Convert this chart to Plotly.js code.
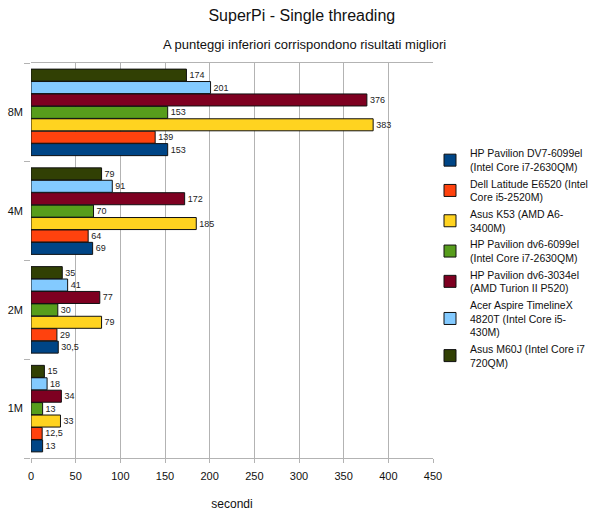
<!DOCTYPE html>
<html>
<head>
<meta charset="utf-8">
<script src="https://cdn.plot.ly/plotly-3.0.1.min.js"></script>
<style>html,body{margin:0;padding:0;background:#fff;}#chart{width:600px;height:514px;}</style>
</head>
<body>
<div id="chart"></div>
<script>
const categories = ['1M', '2M', '4M', '8M'];
const seriesNames = [
  'HP Pavilion DV7-6099el<br>(Intel Core i7-2630QM)',
  'Dell Latitude E6520 (Intel<br>Core i5-2520M)',
  'Asus K53 (AMD A6-<br>3400M)',
  'HP Pavilion dv6-6099el<br>(Intel Core i7-2630QM)',
  'HP Pavilion dv6-3034el<br>(AMD Turion II P520)',
  'Acer Aspire TimelineX<br>4820T (Intel Core i5-<br>430M)',
  'Asus M60J (Intel Core i7<br>720QM)'
];
const hpDv7 = [13, 30.5, 69, 153];
const dellE6520 = [12.5, 29, 64, 139];
const asusK53 = [33, 79, 185, 383];
const hpDv6_6099 = [13, 30, 70, 153];
const hpDv6_3034 = [34, 77, 172, 376];
const acerTimeline = [18, 41, 91, 201];
const asusM60J = [15, 35, 79, 174];
const seriesValues = [hpDv7, dellE6520, asusK53, hpDv6_6099, hpDv6_3034, acerTimeline, asusM60J];
const colors = ['#004586', '#ff420e', '#ffd320', '#579d1c', '#7e0021', '#83caff', '#314004'];
const xTicks = [0, 50, 100, 150, 200, 250, 300, 350, 400, 450];

const traces = seriesValues.map((vals, i) => ({
  type: 'bar',
  orientation: 'h',
  name: seriesNames[i],
  y: categories,
  x: vals,
  text: vals.map(v => String(v).replace('.', ',')),
  textposition: 'outside',
  constraintext: 'none',
  cliponaxis: false,
  textfont: {family: 'Liberation Sans, Arial, sans-serif', size: 9, color: '#222'},
  marker: {color: colors[i], line: {color: '#111', width: 1}},
  hoverinfo: 'x+name'
}));

const layout = {
  width: 600, height: 514,
  paper_bgcolor: '#fff', plot_bgcolor: '#fff',
  font: {family: 'Liberation Sans, Arial, sans-serif', color: '#111', size: 11},
  margin: {l: 31, r: 167, t: 63, b: 56, autoexpand: false},
  barmode: 'group',
  bargap: 0.12,
  bargroupgap: 0.03,
  title: {
    text: 'SuperPi - Single threading',
    font: {size: 16, color: '#111'},
    x: 0.503, xanchor: 'center', xref: 'container',
    y: 1 - 15/514, yanchor: 'middle', yref: 'container'
  },
  annotations: [{
    text: 'A punteggi inferiori corrispondono risultati migliori',
    xref: 'paper', yref: 'paper',
    x: (304 - 31) / 402, y: (458 - 45) / 395,
    xanchor: 'center', yanchor: 'middle', showarrow: false,
    font: {size: 13, color: '#111'}
  }],
  xaxis: {
    range: [0, 450], tickvals: xTicks, ticktext: xTicks.map(String),
    showgrid: true, gridcolor: '#b3b3b3', gridwidth: 1,
    zeroline: false,
    showline: true, linecolor: '#b3b3b3', mirror: true,
    ticks: 'outside', ticklen: 4, tickcolor: '#b3b3b3',
    tickfont: {size: 11, color: '#111'},
    ticklabelstandoff: 4,
    title: {text: 'secondi', font: {size: 12, color: '#111'}, standoff: 18}
  },
  yaxis: {
    type: 'category',
    categoryorder: 'array', categoryarray: categories,
    showgrid: false, zeroline: false, showline: false,
    ticks: 'outside', tickson: 'boundaries', ticklen: 6, tickcolor: '#b3b3b3',
    tickfont: {size: 11, color: '#111'},
    ticklabelstandoff: 7
  },
  legend: {
    x: (430 - 31) / 402, xanchor: 'left',
    y: (458 - 140) / 395, yanchor: 'top',
    traceorder: 'normal',
    font: {size: 10.5, color: '#111'},
    bgcolor: 'rgba(0,0,0,0)',
    itemwidth: 30,
    tracegroupgap: 0
  },
  showlegend: true
};

Plotly.newPlot('chart', traces, layout, {displayModeBar: false, staticPlot: true});
</script>
</body>
</html>
